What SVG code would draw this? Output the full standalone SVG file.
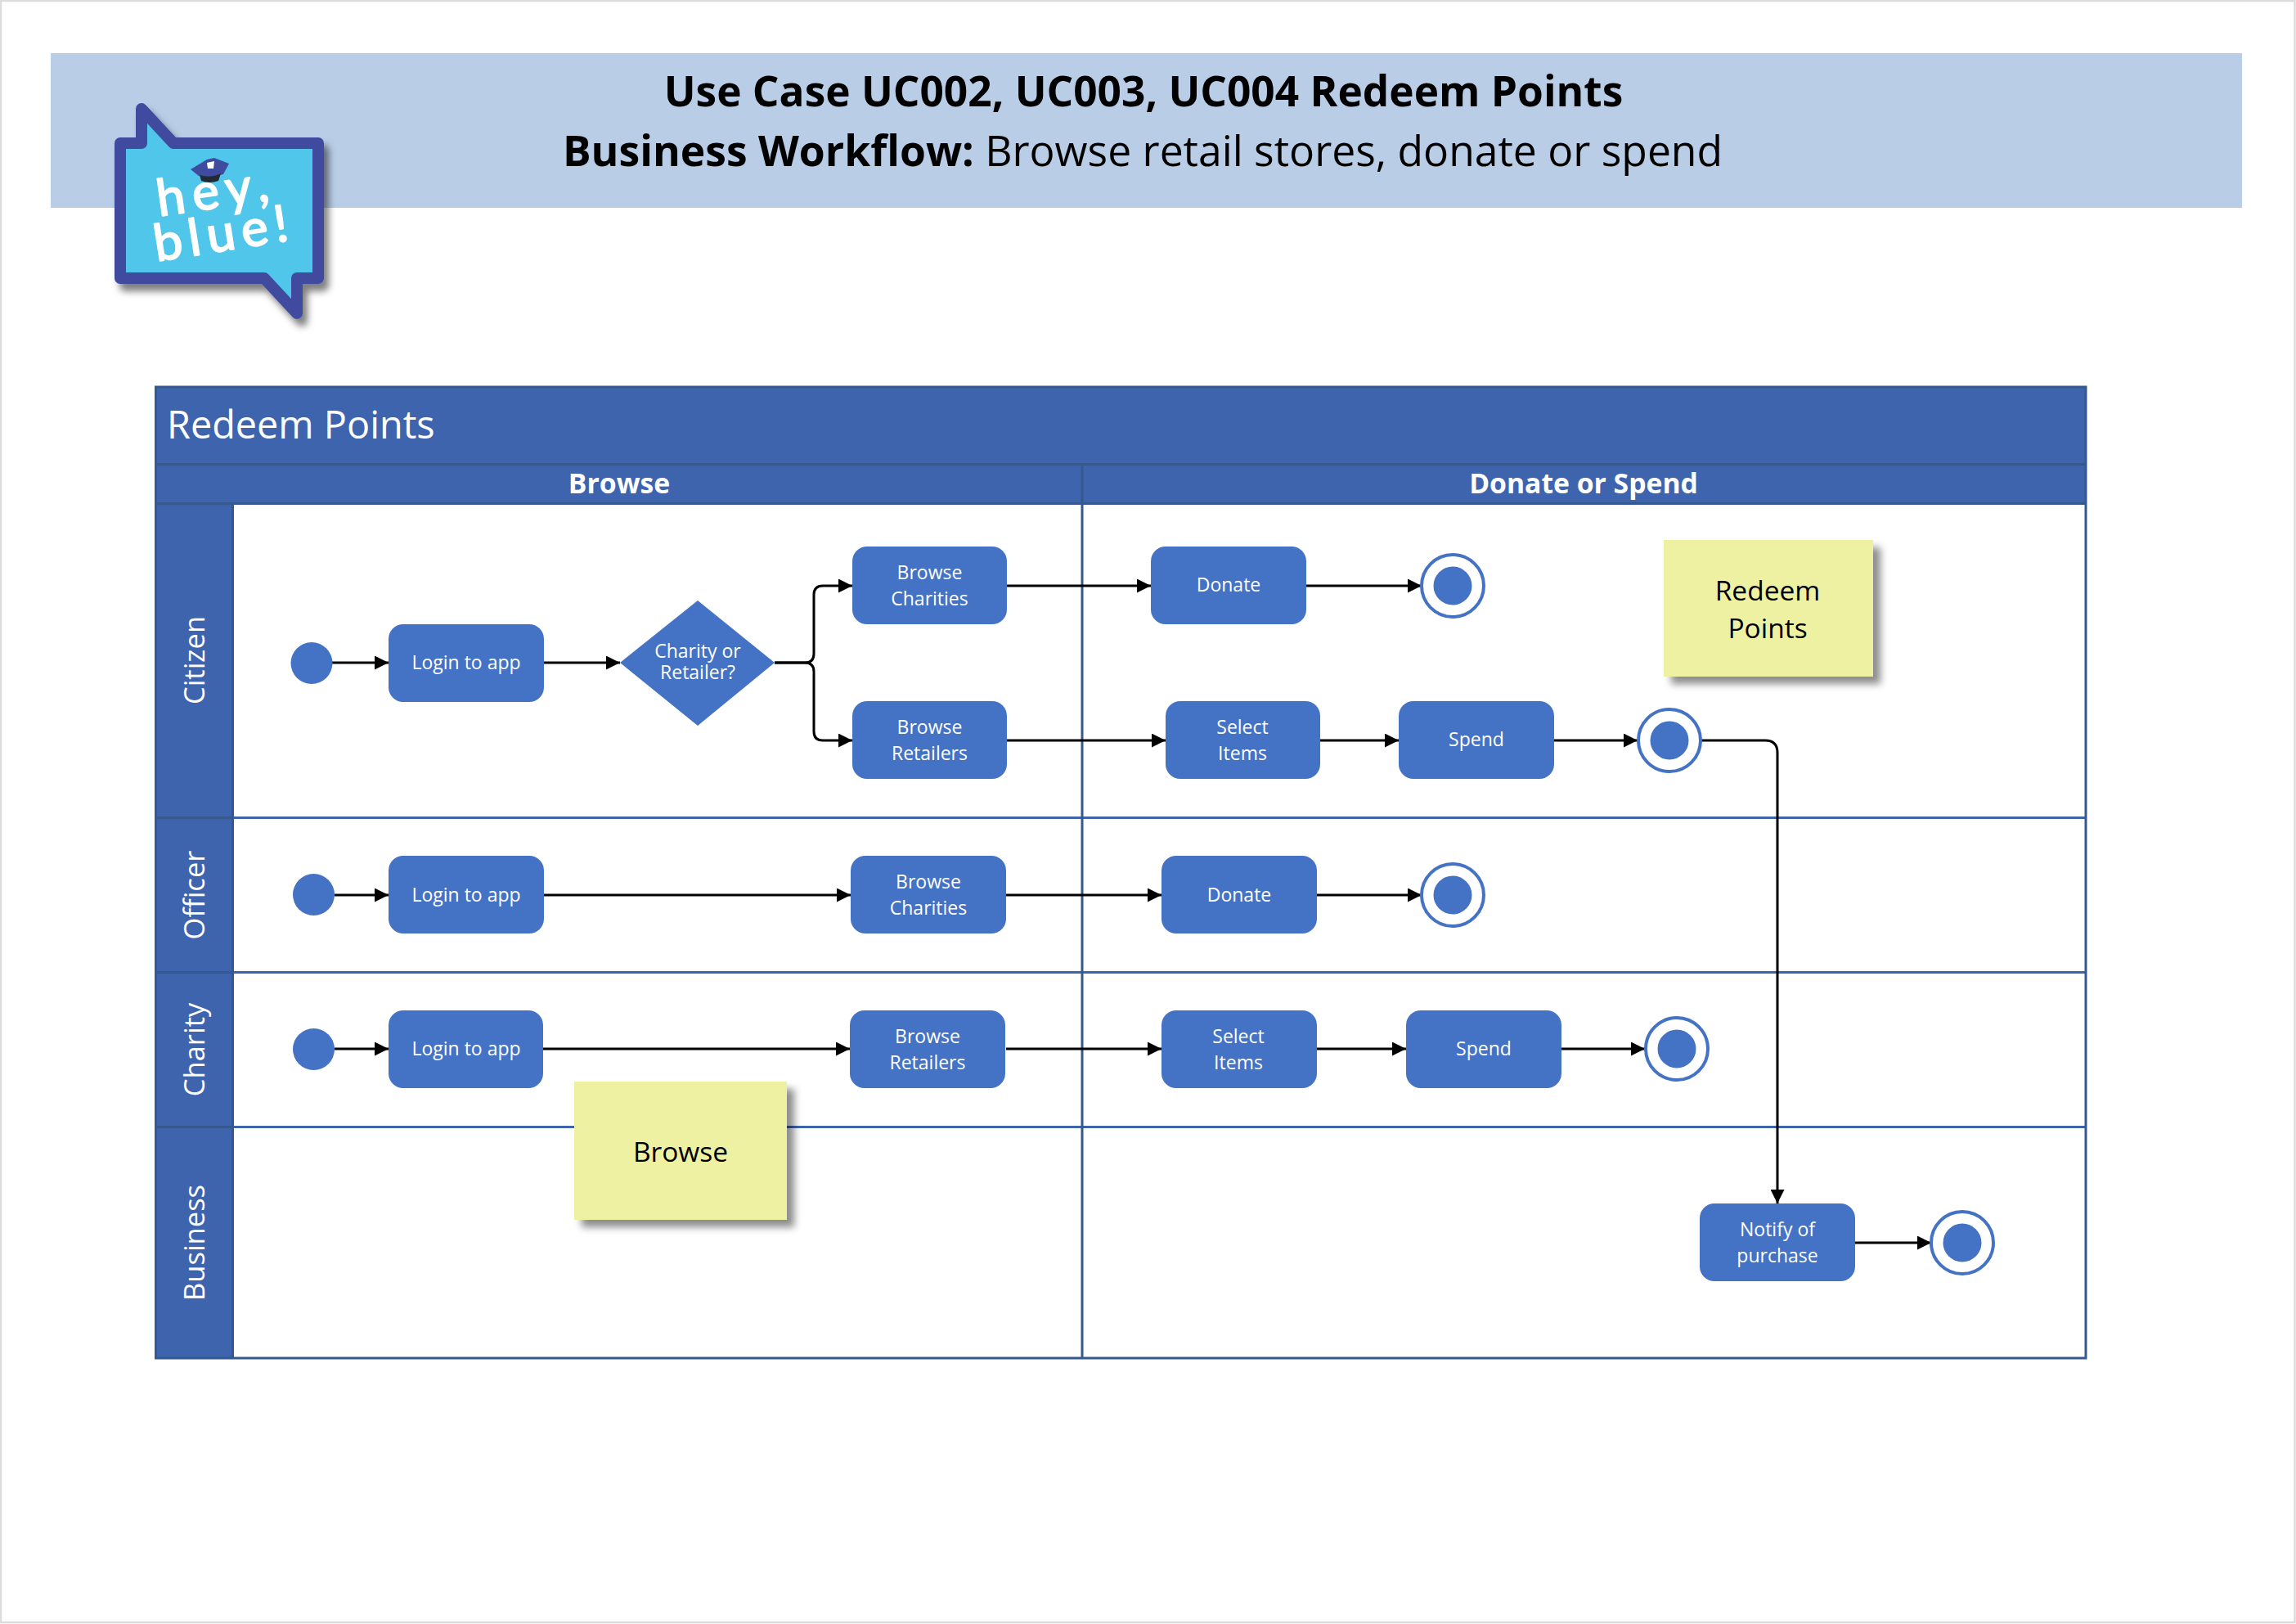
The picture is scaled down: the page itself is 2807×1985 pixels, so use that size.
<svg xmlns="http://www.w3.org/2000/svg" width="2807" height="1985" viewBox="0 0 2807 1985">
<style>
text{font-family:"Open Sans","Noto Sans","Liberation Sans",sans-serif;text-anchor:middle}
.n{fill:#4472c4}
.t{fill:#fff;font-size:23px}
.lane{fill:#fff;font-size:34.500px}
.hd{fill:#fff;font-size:33.700px;font-weight:700}
.note{fill:#eef1a2;filter:url(#sh)}
.nt{fill:#000;font-size:33.500px}
.e{fill:#fff;stroke:#4472c4;stroke-width:4}
.c{fill:none;stroke:#000;stroke-width:3;marker-end:url(#a)}
.g{stroke:#3e64ad;stroke-width:3;fill:none}
.d{stroke:#35598f;stroke-width:3;fill:none}
.logo{fill:#fff;font-size:62px;font-family:Lato,"Open Sans",sans-serif;stroke:#fff;stroke-width:2;stroke-linejoin:round}
</style>
<defs>
<marker id="a" markerUnits="userSpaceOnUse" markerWidth="17" markerHeight="17" refX="17" refY="8.500" orient="auto"><path d="M0 0L17 8.500L0 17z" fill="#000"/></marker>
<filter id="sh" x="-10%" y="-10%" width="125%" height="130%"><feDropShadow dx="9" dy="9" stdDeviation="5" flood-color="#000" flood-opacity=".45"/></filter>
<filter id="ls" x="-10%" y="-10%" width="125%" height="125%"><feDropShadow dx="6" dy="9" stdDeviation="4" flood-color="#000" flood-opacity=".5"/></filter>
</defs>
<rect width="2807" height="1985" fill="#fff"/>
<rect x="1" y="1" width="2804.500" height="1982" fill="none" stroke="#dcdcdc" stroke-width="2.500"/>
<g id="banner">
<rect x="62" y="65" width="2679" height="189" fill="#b9cde6"/>
<text x="1398" y="130" font-size="51.400" font-weight="700">Use Case UC002, UC003, UC004 Redeem Points</text>
<text x="1397" y="203" font-size="51.600"><tspan font-weight="700">Business Workflow:</tspan> Browse retail stores, donate or spend</text>
</g>
<g id="logo">
<path d="M147 175H173V133L212 175H389V340H363V383L323 340H147Z" fill="#4fc6ea" stroke="#3f4b9f" stroke-width="14" stroke-linejoin="round" filter="url(#ls)"/>
<text class="logo" transform="translate(267,254) rotate(-8)" letter-spacing="9">hey,</text>
<text class="logo" transform="translate(277,306) rotate(-9)" letter-spacing="8">blue!</text>
<g id="hat"><path d="M233 207L253 195L262 193L280 200L273 213Q252 218 243 215Z" fill="#3f4b9f"/><path d="M244 214Q258 218 270 212L267 221Q256 225 246 221Z" fill="#222b33"/><path d="M253 199L262 197L261 206L254 206Z" fill="#fff"/></g>
</g>
<g id="pool">
<rect x="190.500" y="473" width="2359.500" height="1187" fill="#fff"/>
<rect x="190" y="473" width="2360" height="143" fill="#3e64ad"/>
<rect x="190" y="616" width="95" height="1044" fill="#3e64ad"/>
<path class="g" d="M285 999.500H2550M285 1188.500H2550M285 1377.500H2550"/>
<path class="d" d="M1323 567V1660M190 567.500H2550M190 615.500H2550M284.500 616V1660M190 999.500H285M190 1188.500H285M190 1377.500H285"/>
<rect x="190.500" y="473" width="2359.500" height="1187" class="d"/>
<text x="204" y="536" font-size="46.800" fill="#fff" style="text-anchor:start">Redeem Points</text>
<text class="hd" x="757" y="603">Browse</text>
<text class="hd" x="1936" y="603">Donate or Spend</text>
<text class="lane" transform="translate(250,807) rotate(-90)">Citizen</text>
<text class="lane" transform="translate(250,1094) rotate(-90)">Officer</text>
<text class="lane" transform="translate(250,1283) rotate(-90)">Charity</text>
<text class="lane" transform="translate(250,1519) rotate(-90)">Business</text>
</g>
<g id="connectors">
<path class="c" d="M406 810H475"/>
<path class="c" d="M665 810H758"/>
<path class="c" d="M947 810H984Q995 810 995 799V727Q995 716 1006 716H1042"/>
<path class="c" d="M947 810H984Q995 810 995 821V894Q995 905 1006 905H1042"/>
<path class="c" d="M1231 716H1407"/>
<path class="c" d="M1597 716H1738"/>
<path class="c" d="M1231 905H1425"/>
<path class="c" d="M1614 905H1710"/>
<path class="c" d="M1900 905H2002"/>
<path class="c" d="M2080 905H2158Q2173 905 2173 920V1471"/>
<path class="c" d="M409 1094H475"/>
<path class="c" d="M665 1094H1040"/>
<path class="c" d="M1230 1094H1420"/>
<path class="c" d="M1610 1094H1738"/>
<path class="c" d="M409 1282H475"/>
<path class="c" d="M664 1282H1039"/>
<path class="c" d="M1230 1282H1420"/>
<path class="c" d="M1610 1282H1719"/>
<path class="c" d="M1909 1282H2011"/>
<path class="c" d="M2268 1519H2361"/>
</g>
<g id="note-redeem"><rect class="note" x="2034" y="660" width="256" height="167"/><text class="nt" x="2161" y="734">Redeem</text><text class="nt" x="2161" y="780">Points</text></g>
<g id="note-browse"><rect class="note" x="702" y="1322" width="260" height="169"/><text class="nt" x="832" y="1420">Browse</text></g>
<g id="c-start"><circle class="n" cx="381" cy="810.500" r="25.500"/></g>
<g id="c-login"><rect class="n" x="475" y="763" width="190" height="95" rx="18"/><text class="t" x="570" y="818">Login to app</text></g>
<g id="c-decision"><path class="n" d="M758 810L853 734L947 810L853 887Z"/><text class="t"><tspan x="853" y="804">Charity or</tspan><tspan x="853" y="830">Retailer?</tspan></text></g>
<g id="c-charities"><rect class="n" x="1042" y="668" width="189" height="95" rx="18"/><text class="t" x="1136.500" y="708">Browse</text><text class="t" x="1136.500" y="740">Charities</text></g>
<g id="c-retailers"><rect class="n" x="1042" y="857" width="189" height="95" rx="18"/><text class="t" x="1136.500" y="897">Browse</text><text class="t" x="1136.500" y="929">Retailers</text></g>
<g id="c-donate"><rect class="n" x="1407" y="668" width="190" height="95" rx="18"/><text class="t" x="1502" y="723">Donate</text></g>
<g id="c-end1"><circle class="e" cx="1776" cy="716" r="38"/><circle class="n" cx="1776" cy="716" r="23.500"/></g>
<g id="c-select"><rect class="n" x="1425" y="857" width="189" height="95" rx="18"/><text class="t" x="1519" y="897">Select</text><text class="t" x="1519" y="929">Items</text></g>
<g id="c-spend"><rect class="n" x="1710" y="857" width="190" height="95" rx="18"/><text class="t" x="1805" y="912">Spend</text></g>
<g id="c-end2"><circle class="e" cx="2041" cy="905" r="38"/><circle class="n" cx="2041" cy="905" r="23.500"/></g>
<g id="o-start"><circle class="n" cx="383.500" cy="1093.500" r="25.500"/></g>
<g id="o-login"><rect class="n" x="475" y="1046" width="190" height="95" rx="18"/><text class="t" x="570" y="1102">Login to app</text></g>
<g id="o-charities"><rect class="n" x="1040" y="1046" width="190" height="95" rx="18"/><text class="t" x="1135" y="1086">Browse</text><text class="t" x="1135" y="1118">Charities</text></g>
<g id="o-donate"><rect class="n" x="1420" y="1046" width="190" height="95" rx="18"/><text class="t" x="1515" y="1102">Donate</text></g>
<g id="o-end"><circle class="e" cx="1776" cy="1094" r="38"/><circle class="n" cx="1776" cy="1094" r="23.500"/></g>
<g id="h-start"><circle class="n" cx="383.500" cy="1282.500" r="25.500"/></g>
<g id="h-login"><rect class="n" x="475" y="1235" width="189" height="95" rx="18"/><text class="t" x="570" y="1290">Login to app</text></g>
<g id="h-retailers"><rect class="n" x="1039" y="1235" width="190" height="95" rx="18"/><text class="t" x="1134" y="1275">Browse</text><text class="t" x="1134" y="1307">Retailers</text></g>
<g id="h-select"><rect class="n" x="1420" y="1235" width="190" height="95" rx="18"/><text class="t" x="1514" y="1275">Select</text><text class="t" x="1514" y="1307">Items</text></g>
<g id="h-spend"><rect class="n" x="1719" y="1235" width="190" height="95" rx="18"/><text class="t" x="1814" y="1290">Spend</text></g>
<g id="h-end"><circle class="e" cx="2050" cy="1282" r="38"/><circle class="n" cx="2050" cy="1282" r="23.500"/></g>
<g id="b-notify"><rect class="n" x="2078" y="1471" width="190" height="95" rx="18"/><text class="t" x="2173" y="1511">Notify of</text><text class="t" x="2173" y="1543">purchase</text></g>
<g id="b-end"><circle class="e" cx="2399" cy="1519" r="38"/><circle class="n" cx="2399" cy="1519" r="23.500"/></g>
</svg>
